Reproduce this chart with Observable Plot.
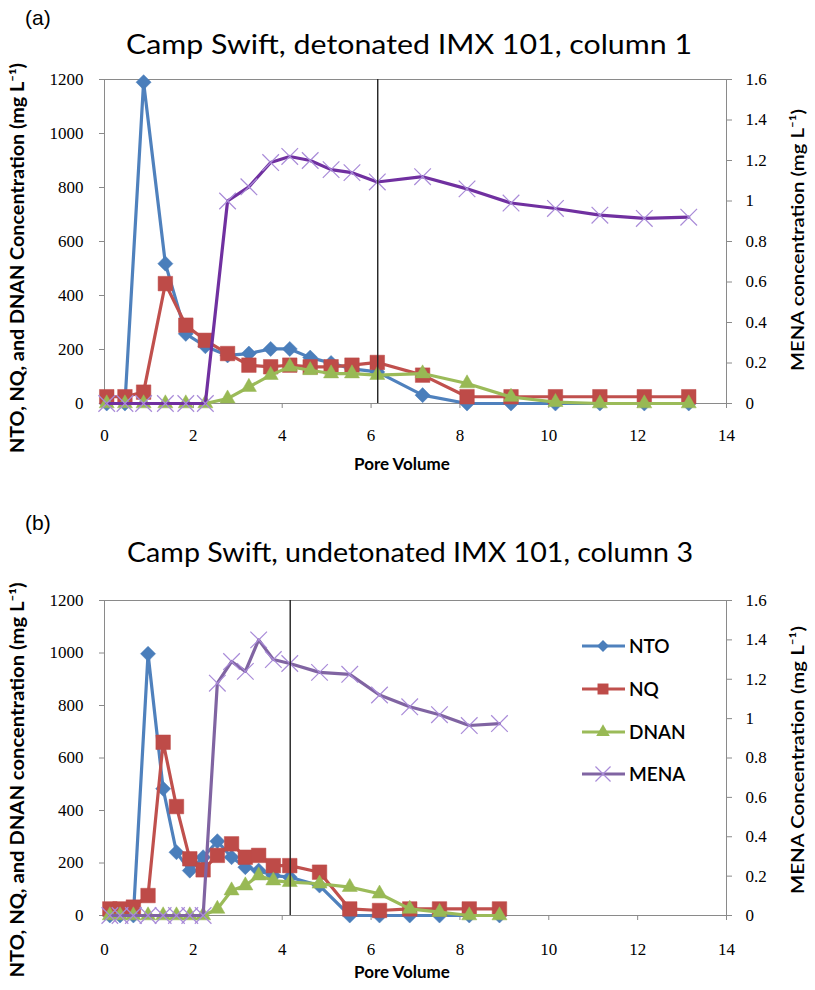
<!DOCTYPE html>
<html><head><meta charset="utf-8">
<script src="https://cdn.jsdelivr.net/npm/d3@7"></script>
<script src="https://cdn.jsdelivr.net/npm/@observablehq/plot@0.6"></script>
<style>
body{margin:0;background:#fff}
#wrap{position:relative;width:815px;height:990px;overflow:hidden;background:#fff}
#wrap svg{position:absolute;left:0}
#wrap svg.tk text{font-family:'Liberation Serif','DejaVu Serif',serif !important;}
</style></head><body><div id="wrap"></div>
<script>
// ---- data ----
const seriesNames = ["NTO", "NQ", "DNAN", "MENA"];
const xTicks = [0, 2, 4, 6, 8, 10, 12, 14];
const yTicks = [0, 200, 400, 600, 800, 1000, 1200];
const menaTicks = [0, 0.2, 0.4, 0.6, 0.8, 1, 1.2, 1.4, 1.6];

// (a) detonated, column 1
const pvA   = [0.05, 0.46, 0.88, 1.37, 1.83, 2.27, 2.77, 3.25, 3.74, 4.17, 4.63, 5.1, 5.57, 6.14, 7.16, 8.16, 9.15, 10.15, 11.15, 12.15, 13.15];
const ntoA  = [0, 0, 1190, 518, 258, 212, 178, 185, 202, 202, 170, 150, 128, 117, 31, 0, 0, 0, 0, 0, 0];
const nqA   = [25, 25, 42, 444, 290, 234, 185, 142, 136, 142, 136, 136, 142, 152, 105, 25, 25, 25, 25, 25, 25];
const dnanA = [0, 0, 0, 0, 0, 0, 18, 61, 105, 136, 123, 111, 111, 105, 111, 74, 24, 5, 0, 0, 0];
const menaA = [0, 0, 0, 0, 0, 0, 1.0, 1.07, 1.19, 1.22, 1.2, 1.155, 1.14, 1.094, 1.12, 1.06, 0.99, 0.963, 0.93, 0.914, 0.92];
const cutA  = [6.15];

// (b) undetonated, column 3
const pvB   = [0.12, 0.35, 0.65, 0.98, 1.32, 1.62, 1.92, 2.22, 2.54, 2.86, 3.17, 3.47, 3.8, 4.17, 4.84, 5.52, 6.19, 6.87, 7.54, 8.21, 8.89];
const ntoB  = [0, 0, 0, 997, 483, 241, 171, 222, 283, 222, 184, 171, 152, 146, 114, 0, 0, 0, 0, 0, 0];
const nqB   = [25, 25, 32, 76, 660, 415, 216, 174, 229, 273, 222, 229, 190, 190, 165, 25, 19, 25, 25, 25, 25];
const dnanB = [0, 0, 0, 0, 0, 0, 0, 0, 25, 95, 114, 152, 133, 127, 121, 108, 83, 25, 13, 0, 0];
const menaB = [0, 0, 0, 0, 0, 0, 0, 0, 1.18, 1.29, 1.24, 1.40, 1.30, 1.28, 1.235, 1.225, 1.12, 1.06, 1.02, 0.965, 0.975];
const cutB  = [4.18];

// ---- styling ----
const C = {
  nto: "#4F81BD", ntoM: "#4A7EBB",
  nq: "#C0504D", nqM: "#BE4B48",
  dnan: "#9BBB59", dnanM: "#98B954",
  menaA: "#7030A0", menaB: "#8064A2", menaM: "#A98BD8",
  axis: "#8a8a8a"
};
const K = 1200 / 1.6; // MENA -> left scale
const serif = "'Liberation Serif', 'DejaVu Serif', serif";

function rowsOf(pv, nto, nq, dnan, mena) {
  return pv.map((p, i) => ({pv: p, nto: nto[i], nq: nq[i], dnan: dnan[i], mena: mena[i]}));
}

function panel(rows, cut, menaColor, marginBottom, xPad) {
  const ax = {stroke: C.axis, fill: "#000", label: null, fontSize: 17, fontFamily: serif, tickSize: 5};
  return Plot.plot({
    className: "tk",
    width: 815, height: 460,
    marginTop: 79, marginBottom, marginLeft: 104, marginRight: 89,
    style: {fontFamily: serif, fontSize: "17px", background: "transparent", color: "#000", overflow: "visible"},
    x: {domain: [0, 14]},
    y: {domain: [0, 1200]},
    marks: [
      Plot.frame({stroke: C.axis}),
      Plot.axisX({...ax, ticks: xTicks, tickPadding: xPad, tickFormat: d3.format("d")}),
      Plot.axisY({...ax, ticks: yTicks, tickPadding: 16, tickFormat: d3.format("d")}),
      Plot.axisY({...ax, anchor: "right", ticks: menaTicks.map(v => v * K), tickFormat: v => String(+(v / K).toFixed(1)), tickPadding: 14}),
      Plot.line(rows, {x: "pv", y: "nto", stroke: C.nto, strokeWidth: 3.2}),
      Plot.dot(rows, {x: "pv", y: "nto", symbol: "diamond2", r: 6.8, fill: C.ntoM, stroke: C.ntoM, strokeWidth: 0.5}),
      Plot.line(rows, {x: "pv", y: "nq", stroke: C.nq, strokeWidth: 3.2}),
      Plot.dot(rows, {x: "pv", y: "nq", symbol: "square", r: 8.2, fill: C.nqM, stroke: C.nqM, strokeWidth: 0.5}),
      Plot.line(rows, {x: "pv", y: "dnan", stroke: C.dnan, strokeWidth: 3.2}),
      Plot.dot(rows, {x: "pv", y: "dnan", symbol: "triangle", r: 5.6, fill: C.dnanM, stroke: C.dnanM, strokeWidth: 0.5}),
      Plot.line(rows, {x: "pv", y: d => d.mena * K, stroke: menaColor, strokeWidth: 3.2}),
      Plot.dot(rows, {x: "pv", y: d => d.mena * K, symbol: "times", r: 7.6, stroke: C.menaM, strokeWidth: 1.2}),
      Plot.ruleX(cut, {stroke: "#222", strokeWidth: 1.4})
    ]
  });
}

const wrap = document.getElementById("wrap");
const svgA = panel(rowsOf(pvA, ntoA, nqA, dnanA, menaA), cutA, C.menaA, 57, 20);
svgA.style.top = "0px";
wrap.appendChild(svgA);
const svgB = panel(rowsOf(pvB, ntoB, nqB, dnanB, menaB), cutB, C.menaB, 66, 22);
svgB.style.top = "521px";
wrap.appendChild(svgB);

// ---- overlay: titles, axis titles, legend ----
const ov = d3.select(wrap).append("svg").attr("width", 815).attr("height", 990).style("top", "0px").style("pointer-events", "none");
const sans = "Lato, 'Open Sans', sans-serif";

function txt(x, y, s, opts = {}) {
  const t = ov.append("text").attr("x", x).attr("y", y).text(s)
    .attr("font-family", opts.family || sans).attr("font-size", opts.size || 16)
    .attr("font-weight", opts.weight || 400).attr("fill", "#000")
    .attr("text-anchor", opts.anchor || "start");
  if (opts.len) t.attr("textLength", opts.len).attr("lengthAdjust", "spacingAndGlyphs");
  if (opts.rotate) t.attr("transform", `rotate(-90 ${x} ${y})`).attr("dominant-baseline", "central");
  return t;
}

txt(25, 25, "(a)", {family: "'Liberation Sans', Arial, sans-serif", size: 21});
txt(409, 54, "Camp Swift, detonated IMX 101, column 1", {size: 27, anchor: "middle", len: 566});
txt(17, 258, "NTO, NQ, and DNAN Concentration (mg L⁻¹)", {size: 18, weight: 700, anchor: "middle", rotate: true, len: 390});
txt(797, 240, "MENA concentration (mg L⁻¹)", {size: 18, weight: 600, anchor: "middle", rotate: true, len: 262});
txt(402, 470, "Pore Volume", {size: 17, weight: 700, anchor: "middle"});

txt(25, 530, "(b)", {family: "'Liberation Sans', Arial, sans-serif", size: 21});
txt(410, 562, "Camp Swift, undetonated IMX 101, column 3", {size: 27, anchor: "middle", len: 566});
txt(17, 780, "NTO, NQ, and DNAN concentration (mg L⁻¹)", {size: 18, weight: 700, anchor: "middle", rotate: true, len: 395});
txt(797, 760, "MENA Concentration (mg L⁻¹)", {size: 18, weight: 600, anchor: "middle", rotate: true, len: 268});
txt(402, 978, "Pore Volume", {size: 17, weight: 700, anchor: "middle"});

// legend (panel b)
const legend = [
  {name: seriesNames[0], line: C.nto, fill: C.ntoM, type: d3.symbolDiamond2, size: 90},
  {name: seriesNames[1], line: C.nq, fill: C.nqM, type: d3.symbolSquare, size: 120},
  {name: seriesNames[2], line: C.dnan, fill: C.dnanM, type: d3.symbolTriangle, size: 80},
  {name: seriesNames[3], line: C.menaB, fill: null, type: d3.symbolTimes, size: 150}
];
const legY = [646, 689, 732, 774];
legend.forEach((L, i) => {
  const y = legY[i];
  ov.append("line").attr("x1", 582).attr("x2", 625).attr("y1", y).attr("y2", y).attr("stroke", L.line).attr("stroke-width", 3);
  const p = ov.append("path").attr("d", d3.symbol(L.type, L.size)()).attr("transform", `translate(603,${y})`);
  if (L.fill) p.attr("fill", L.fill); else p.attr("fill", "none").attr("stroke", C.menaM).attr("stroke-width", 1.2);
  txt(629, y + 6.5, L.name, {size: 19, weight: 600});
});
</script></body></html>
